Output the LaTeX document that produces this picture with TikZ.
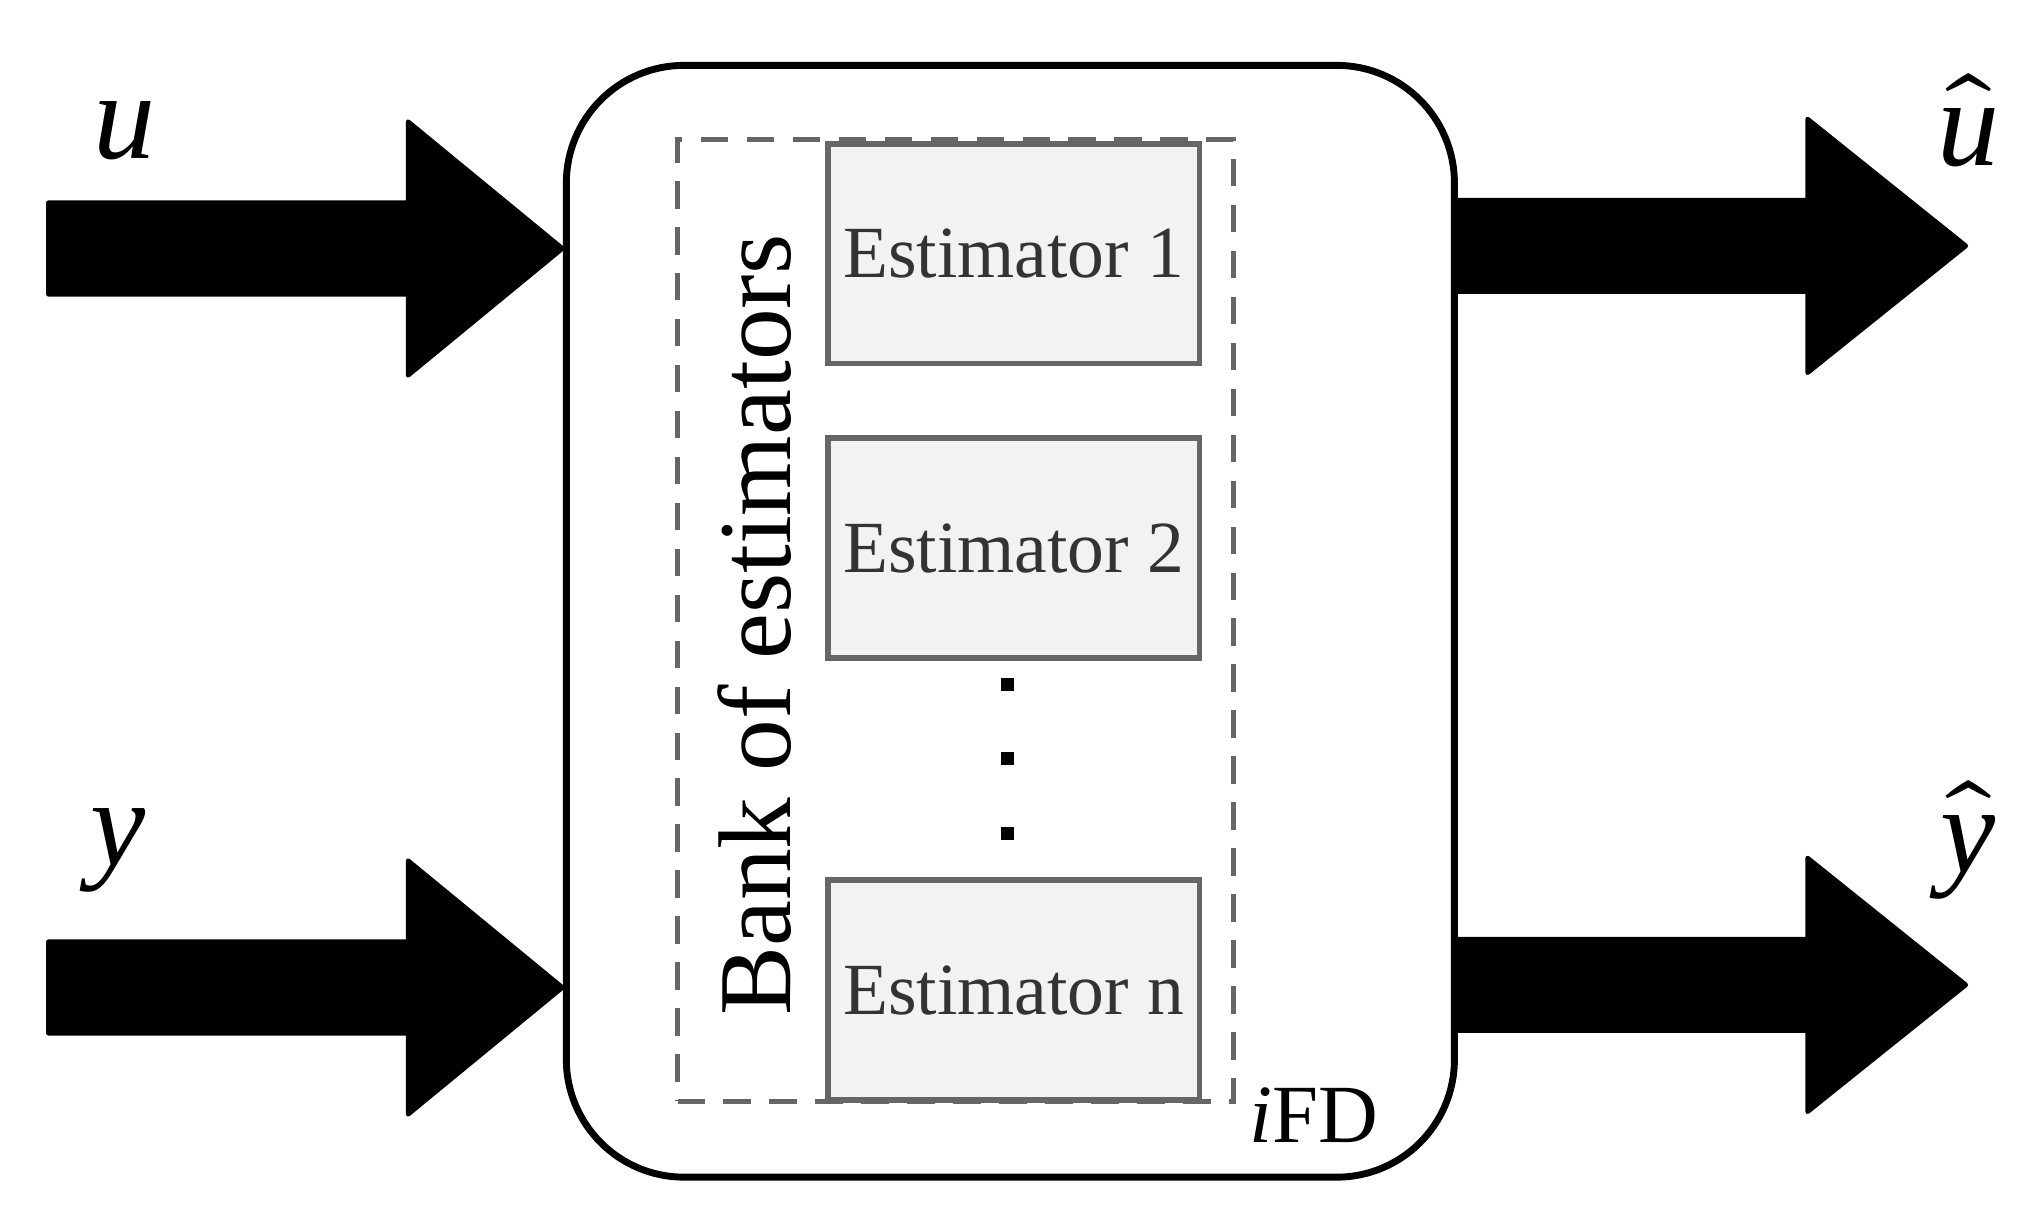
\documentclass[tikz,border=0pt]{standalone}
\usepackage{fontspec}
\setmainfont{Liberation Serif}
\usepackage{unicode-math}
\setmathfont{Latin Modern Math}
\begin{document}
\begin{tikzpicture}[x=0.02cm,y=-0.02cm,
  est/.style={draw=black!60,fill=black!5,line width=2.4pt,minimum width=284*0.02cm,minimum height=168*0.02cm,inner sep=0pt,text=black!80,font=\fontsize{32}{36}\selectfont},
  bigarrow/.style={fill=black,draw=black,line width=2pt,line join=round},
  lab/.style={font=\fontsize{54}{60}\selectfont}]
\useasboundingbox (0,0) rectangle (1562,925);
\node[draw,line width=3pt,rounded corners=90*0.02cm,minimum width=679*0.02cm,minimum height=850*0.02cm] (main) at (772.5,475) {};
\node[draw=black!60,dashed,dash pattern=on 12pt off 8pt,line width=2.2pt,minimum width=425*0.02cm,minimum height=735*0.02cm] (bank) at (730.5,474.5) {};
\node[est] (e1) at (775,194) {Estimator 1};
\node[est] (e2) at (775,419) {Estimator 2};
\node[est] (en) at (775,757) {Estimator n};
\foreach \yy/\n in {523/d1,580/d2,637/d3} \node[fill=black,minimum size=10*0.02cm,inner sep=0pt] (\n) at (770,\yy) {};
\node[rotate=90,font=\fontsize{45}{50}\selectfont] (btxt) at (577,478) {Bank of estimators};
\node[font=\fontsize{36}{42}\selectfont,anchor=south west,inner sep=0pt] (ifd) at (955,874) {\textit{i}FD};
\foreach \c in {190,755}{
 \filldraw[bigarrow] (37,\c-35) -- (312,\c-35) -- (312,\c-97) -- (430,\c) -- (312,\c+97) -- (312,\c+35) -- (37,\c+35) -- cycle;}
\foreach \c in {188,753}{
 \filldraw[bigarrow] (1112,\c-35) -- (1382,\c-35) -- (1382,\c-97) -- (1503,\c) -- (1382,\c+97) -- (1382,\c+35) -- (1112,\c+35) -- cycle;}
\node[lab] (u) at (95,100) {\textit{u}};
\node[lab] (y) at (90,650) {\textit{y}};
\node[lab] (uh) at (1505,92) {$\widehat{\textit{u}}$};
\node[lab] (yh) at (1505,642) {$\widehat{\textit{y}}$};
\end{tikzpicture}
\end{document}
